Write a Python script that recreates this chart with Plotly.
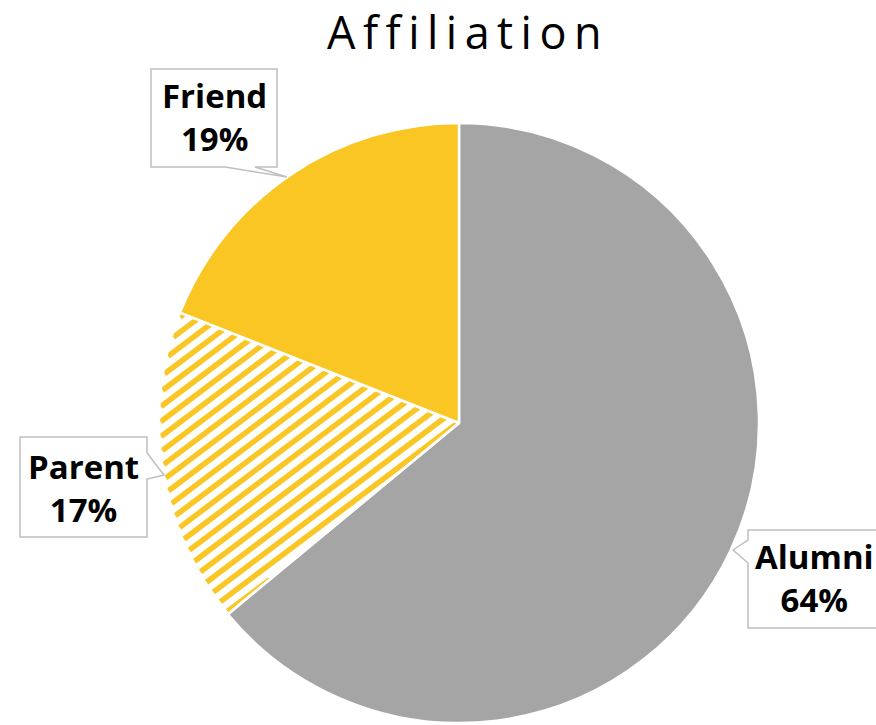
import math
import plotly.graph_objects as go

# Survey respondents by affiliation (percent)
categories = ["Alumni", "Parent", "Friend"]
shares = [64, 17, 19]

GRAY = "#A5A5A5"
GOLD = "#F9C623"
W, H = 876, 725

# pie placement in pixels
CX, CY, R = 459, 423, 300


def px(x):
    return x / W


def py(y):
    return 1 - y / H


fig = go.Figure()

# Hatched slice: diagonal stripes clipped to the "Parent" sector
total = sum(shares)
start = 360 * sum(shares[:1]) / total
end = 360 * sum(shares[:2]) / total
a0, a1 = math.radians(start), math.radians(end)


def in_sector(x, y, pad=1.5):
    dx, dy = x - CX, y - CY
    if math.hypot(dx, dy) > R - pad:
        return False
    ang = math.atan2(dx, -dy) % (2 * math.pi)  # clockwise from 12 o'clock
    return a0 <= ang <= a1


phi = math.radians(37)          # stripe angle above horizontal
dirx, diry = math.cos(phi), -math.sin(phi)
period = 15                     # vertical spacing between stripes
sx, sy = [], []
c = CY - R
while c < CY + R + 300:
    inside = []
    t = 0.0
    while t <= 900.0:
        x = CX - R + t * dirx
        y = c + t * diry
        if in_sector(x, y):
            inside.append((x, y))
        t += 0.5
    if len(inside) > 1:
        sx += [inside[0][0], inside[-1][0], None]
        sy += [inside[0][1], inside[-1][1], None]
    c += period

fig.add_trace(go.Scatter(
    x=sx, y=sy, mode="lines", hoverinfo="skip", showlegend=False,
    line=dict(color=GOLD, width=5.5),
))

fig.add_trace(go.Pie(
    labels=categories,
    values=shares,
    sort=False,
    direction="clockwise",
    rotation=0,
    textinfo="none",
    hoverinfo="skip",
    domain=dict(x=[px(CX - R), px(CX + R)], y=[py(CY + R), py(CY - R)]),
    marker=dict(
        colors=[GRAY, "rgba(0,0,0,0)", GOLD],
        line=dict(color="white", width=2.5),
    ),
))


def callout(box, base, tip):
    """Closed outline of a label box with a pointer wedge on one edge."""
    x0, y0, x1, y1 = box
    side, a, b = base
    tx, ty = tip
    if side == "bottom":
        pts = [(x0, y0), (x1, y0), (x1, y1), (b, y1), (tx, ty), (a, y1), (x0, y1)]
    elif side == "right":
        pts = [(x0, y0), (x1, y0), (x1, a), (tx, ty), (x1, b), (x1, y1), (x0, y1)]
    else:
        pts = [(x0, y0), (x1, y0), (x1, y1), (x0, y1), (x0, b), (tx, ty), (x0, a)]
    d = "M " + " L ".join(f"{px(x):.5f},{py(y):.5f}" for x, y in pts) + " Z"
    return dict(
        type="path", xref="paper", yref="paper", path=d,
        fillcolor="white", line=dict(color="#BFBFBF", width=1.5), layer="above",
    )


boxes = {
    "Friend": dict(box=(151, 69, 277, 167), base=("bottom", 225, 255), tip=(287, 177), text=(214, 117)),
    "Parent": dict(box=(20, 437, 147, 537), base=("right", 453, 479), tip=(164, 475), text=(83.5, 488)),
    "Alumni": dict(box=(748, 530, 900, 628), base=("left", 540, 563), tip=(733, 550), text=(814, 578)),
}

shapes = []
annotations = []
for name, pct in zip(categories, shares):
    spec = boxes[name]
    shapes.append(callout(spec["box"], spec["base"], spec["tip"]))
    tx, ty = spec["text"]
    annotations.append(dict(
        x=px(tx), y=py(ty), xref="paper", yref="paper",
        text=f"<b>{name}</b><br><b>{pct}%</b>",
        showarrow=False, xanchor="center", yanchor="middle",
        font=dict(family="Open Sans", size=33, color="black"),
    ))

title_text = "\u2009".join("Affiliation")
annotations.append(dict(
    x=px(464), y=py(31), xref="paper", yref="paper",
    text=title_text, showarrow=False, xanchor="center", yanchor="middle",
    font=dict(family="Open Sans", size=45, color="black"),
))

fig.update_layout(
    width=W, height=H,
    margin=dict(l=0, r=0, t=0, b=0),
    paper_bgcolor="white",
    plot_bgcolor="rgba(0,0,0,0)",
    showlegend=False,
    xaxis=dict(range=[0, W], visible=False, fixedrange=True),
    yaxis=dict(range=[H, 0], visible=False, fixedrange=True),
    shapes=shapes,
    annotations=annotations,
)

fig.write_html("out.html")
